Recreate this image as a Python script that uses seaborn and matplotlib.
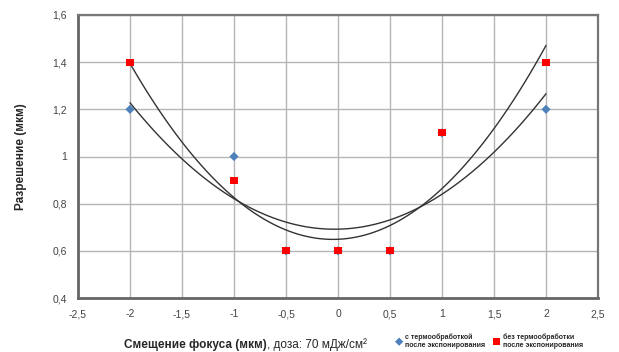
import numpy as np
import pandas as pd
import matplotlib
matplotlib.use("Agg")
import matplotlib.pyplot as plt
import seaborn as sns

# Data
focus = [-2, -1, -0.5, 0, 0.5, 1, 2]
res_with_bake = [1.2, 1.0, 0.6, 0.6, 0.6, 1.1, 1.2]
res_no_bake = [1.4, 0.9, 0.6, 0.6, 0.6, 1.1, 1.4]

x_ticks = [-2.5, -2, -1.5, -1, -0.5, 0, 0.5, 1, 1.5, 2, 2.5]
x_labels = ["-2,5", "-2", "-1,5", "-1", "-0,5", "0", "0,5", "1", "1,5", "2", "2,5"]
y_ticks = [0.4, 0.6, 0.8, 1.0, 1.2, 1.4, 1.6]
y_labels = ["0,4", "0,6", "0,8", "1", "1,2", "1,4", "1,6"]

label_with = "с термообработкой\nпосле экспонирования"
label_without = "без термообработки\nпосле экспонирования"

df_with = pd.DataFrame({"x": focus, "y": res_with_bake})
df_without = pd.DataFrame({"x": focus, "y": res_no_bake})

sns.set_style("white")
plt.rcParams["font.family"] = ["Liberation Sans", "DejaVu Sans"]

fig = plt.figure(figsize=(6.19, 3.52), dpi=100)
ax = fig.add_axes([78 / 619, 1 - 298 / 352, (598 - 78) / 619, (298 - 15) / 352])

# Quadratic trend lines (like Excel polynomial trendline)
sns.regplot(data=df_with, x="x", y="y", order=2, ci=None, scatter=False,
            truncate=True, ax=ax, line_kws={"color": "#333333", "lw": 1.0})
sns.regplot(data=df_without, x="x", y="y", order=2, ci=None, scatter=False,
            truncate=True, ax=ax, line_kws={"color": "#333333", "lw": 1.0})

# Points
sns.scatterplot(data=df_with, x="x", y="y", marker="D", color="#4F81BD",
                s=22, edgecolor="none", ax=ax, label=label_with, zorder=3)
sns.scatterplot(data=df_without, x="x", y="y", marker="s", color="#FF0000",
                s=26, edgecolor="none", ax=ax, label=label_without, zorder=4)

ax.set_xlim(-2.5, 2.5)
ax.set_ylim(0.4, 1.6)
ax.set_xticks(x_ticks)
ax.set_xticklabels(x_labels)
ax.set_yticks(y_ticks)
ax.set_yticklabels(y_labels)
ax.tick_params(axis="both", labelsize=7.5, colors="#444444", length=0, pad=8)

ax.grid(True, color="#b5b5b5", lw=1.0)
ax.set_axisbelow(True)
for side in ["left", "bottom"]:
    ax.spines[side].set_color("#666666")
    ax.spines[side].set_linewidth(2.0)
for side in ["top", "right"]:
    ax.spines[side].set_color("#777777")
    ax.spines[side].set_linewidth(1.6)

ax.set_xlabel("")
ax.set_ylabel("Разрешение (мкм)", fontsize=8.5, fontweight="bold", labelpad=18)

# X axis title: bold part + normal part
t1 = fig.text(124 / 619, 1 - 345 / 352, "Смещение фокуса (мкм)", fontsize=8.5,
              fontweight="bold", va="center", ha="left")
ax.annotate(", доза: 70 мДж/см²", xy=(1, 0.5), xycoords=t1, fontsize=8.5,
            va="center", ha="left")

ax.legend(loc="center", bbox_to_anchor=(489 / 619, 1 - 341 / 352),
          bbox_transform=fig.transFigure, ncol=2, frameon=False,
          prop={"size": 5, "weight": "bold"}, handletextpad=0.3,
          columnspacing=1.0, markerscale=0.9, handlelength=1.2)

fig.savefig("out.png", dpi=100)
